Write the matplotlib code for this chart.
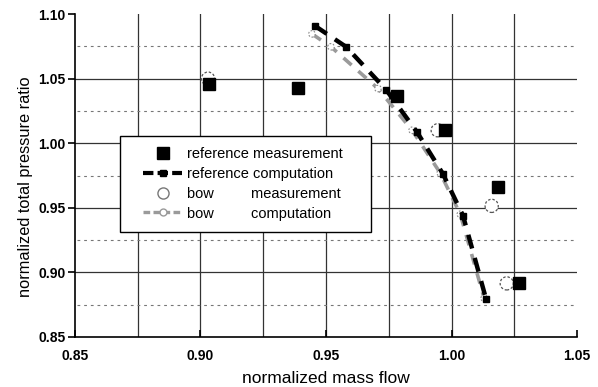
import numpy as np
import matplotlib
matplotlib.use('Agg')
import matplotlib.pyplot as plt
from matplotlib.lines import Line2D
from matplotlib.patches import Rectangle

plt.rcParams['font.family'] = ['Liberation Sans', 'DejaVu Sans']

# reference blade: measured points and computed characteristic
ref_meas_x = [0.9034, 0.9388, 0.9783, 0.9974, 1.0185, 1.0269]
ref_meas_y = [1.0460, 1.0430, 1.0369, 1.0100, 0.9662, 0.8915]
ref_comp_x = [0.9456, 0.9580, 0.9739, 0.9863, 0.9966, 1.0046, 1.0138]
ref_comp_y = [1.0908, 1.0746, 1.0415, 1.0085, 0.9762, 0.9438, 0.8792]

# bowed blade
bow_meas_x = [0.9030, 0.9945, 1.0160, 1.0220]
bow_meas_y = [1.0500, 1.0100, 0.9515, 0.8915]
bow_comp_x = [0.9444, 0.9520, 0.9707, 0.9843, 0.9955, 1.0035, 1.0130]
bow_comp_y = [1.0846, 1.0746, 1.0423, 1.0100, 0.9770, 0.9450, 0.8800]

xticks = [0.85, 0.90, 0.95, 1.00, 1.05]
yticks = [0.85, 0.90, 0.95, 1.00, 1.05, 1.10]

fig = plt.figure(figsize=(5.98, 3.87), dpi=100)
ax = fig.add_axes([0.1254, 0.1292, 0.8395, 0.8346])
ax.set_xlim(0.85, 1.05)
ax.set_ylim(0.85, 1.10)

# grid: solid verticals every 0.025, solid/dotted horizontals
for gx in np.arange(0.875, 1.04, 0.025):
    ax.axvline(gx, color='#333333', lw=0.9, zorder=1)
for gy in [0.90, 0.95, 1.00, 1.05]:
    ax.axhline(gy, color='#333333', lw=0.9, zorder=1)
for gy in [0.875, 0.925, 0.975, 1.025, 1.075]:
    ax.plot([0.851, 1.05], [gy, gy], color='#777777', lw=0.8,
            linestyle=(0, (2.5, 3.5)), zorder=1)

# bow data
ax.plot(bow_comp_x, bow_comp_y, color='#9a9a9a', lw=2.6,
        linestyle=(0, (3, 2.5)), zorder=3)
ax.scatter(bow_comp_x, bow_comp_y, s=22, facecolors='white',
           edgecolors='#888888', linewidths=0.8, linestyles=(0, (1.5, 1.5)), zorder=4)
ax.scatter(bow_meas_x, bow_meas_y, s=90, facecolors='white',
           edgecolors='#555555', linewidths=0.9, linestyles=(0, (2, 1.5)), zorder=4)

# reference data
ax.plot(ref_comp_x, ref_comp_y, color='black', lw=3.2,
        linestyle=(0, (3.2, 2.2)), zorder=5)
ax.plot(ref_comp_x, ref_comp_y, 's', color='black', ms=4.5, zorder=6)
ax.plot(ref_meas_x, ref_meas_y, 's', color='black', ms=8, zorder=6)

for side in ['top', 'right']:
    ax.spines[side].set_visible(False)
for side in ['left', 'bottom']:
    ax.spines[side].set_linewidth(1.2)
ax.set_xticks(xticks)
ax.set_yticks(yticks)
ax.set_xticklabels([f'{v:.2f}' for v in xticks], fontsize=10, fontweight='bold')
ax.set_yticklabels([f'{v:.2f}' for v in yticks], fontsize=10, fontweight='bold')
ax.tick_params(axis='y', direction='out', length=5, width=1.2, pad=2)
ax.tick_params(axis='x', direction='in', length=5, width=1.2, pad=9)

ax.set_xlabel('normalized mass flow', fontsize=12.5)
ax.xaxis.set_label_coords(0.5, -0.104)
ax.set_ylabel('normalized total pressure ratio', fontsize=11.8)
ax.yaxis.set_label_coords(-0.084, 0.464)

# legend box with white face over the grid
ax.add_patch(Rectangle((0.0896, 0.325), 0.5, 0.297, transform=ax.transAxes,
                       facecolor='white', edgecolor='black', lw=1.0, zorder=9))

handles = [
    Line2D([], [], marker='s', color='black', ms=8, linestyle='none'),
    Line2D([], [], marker='s', color='black', ms=4.5, lw=3, linestyle=(0, (2.5, 1))),
    Line2D([], [], marker='o', mfc='white', mec='#777777', ms=8, linestyle='none'),
    Line2D([], [], marker='o', mfc='white', mec='#999999', ms=5, color='#9a9a9a',
           lw=2.4, linestyle=(0, (2, 1))),
]
labels = ['reference measurement', 'reference computation',
          'bow         measurement', 'bow         computation']
leg = ax.legend(handles, labels, loc='upper left', bbox_to_anchor=(0.1355, 0.588),
                fontsize=10.5, frameon=False, handlelength=2.7,
                borderpad=0, labelspacing=0.4, handletextpad=0.35,
                borderaxespad=0)
leg.set_zorder(10)

fig.savefig('out.png', dpi=100)
